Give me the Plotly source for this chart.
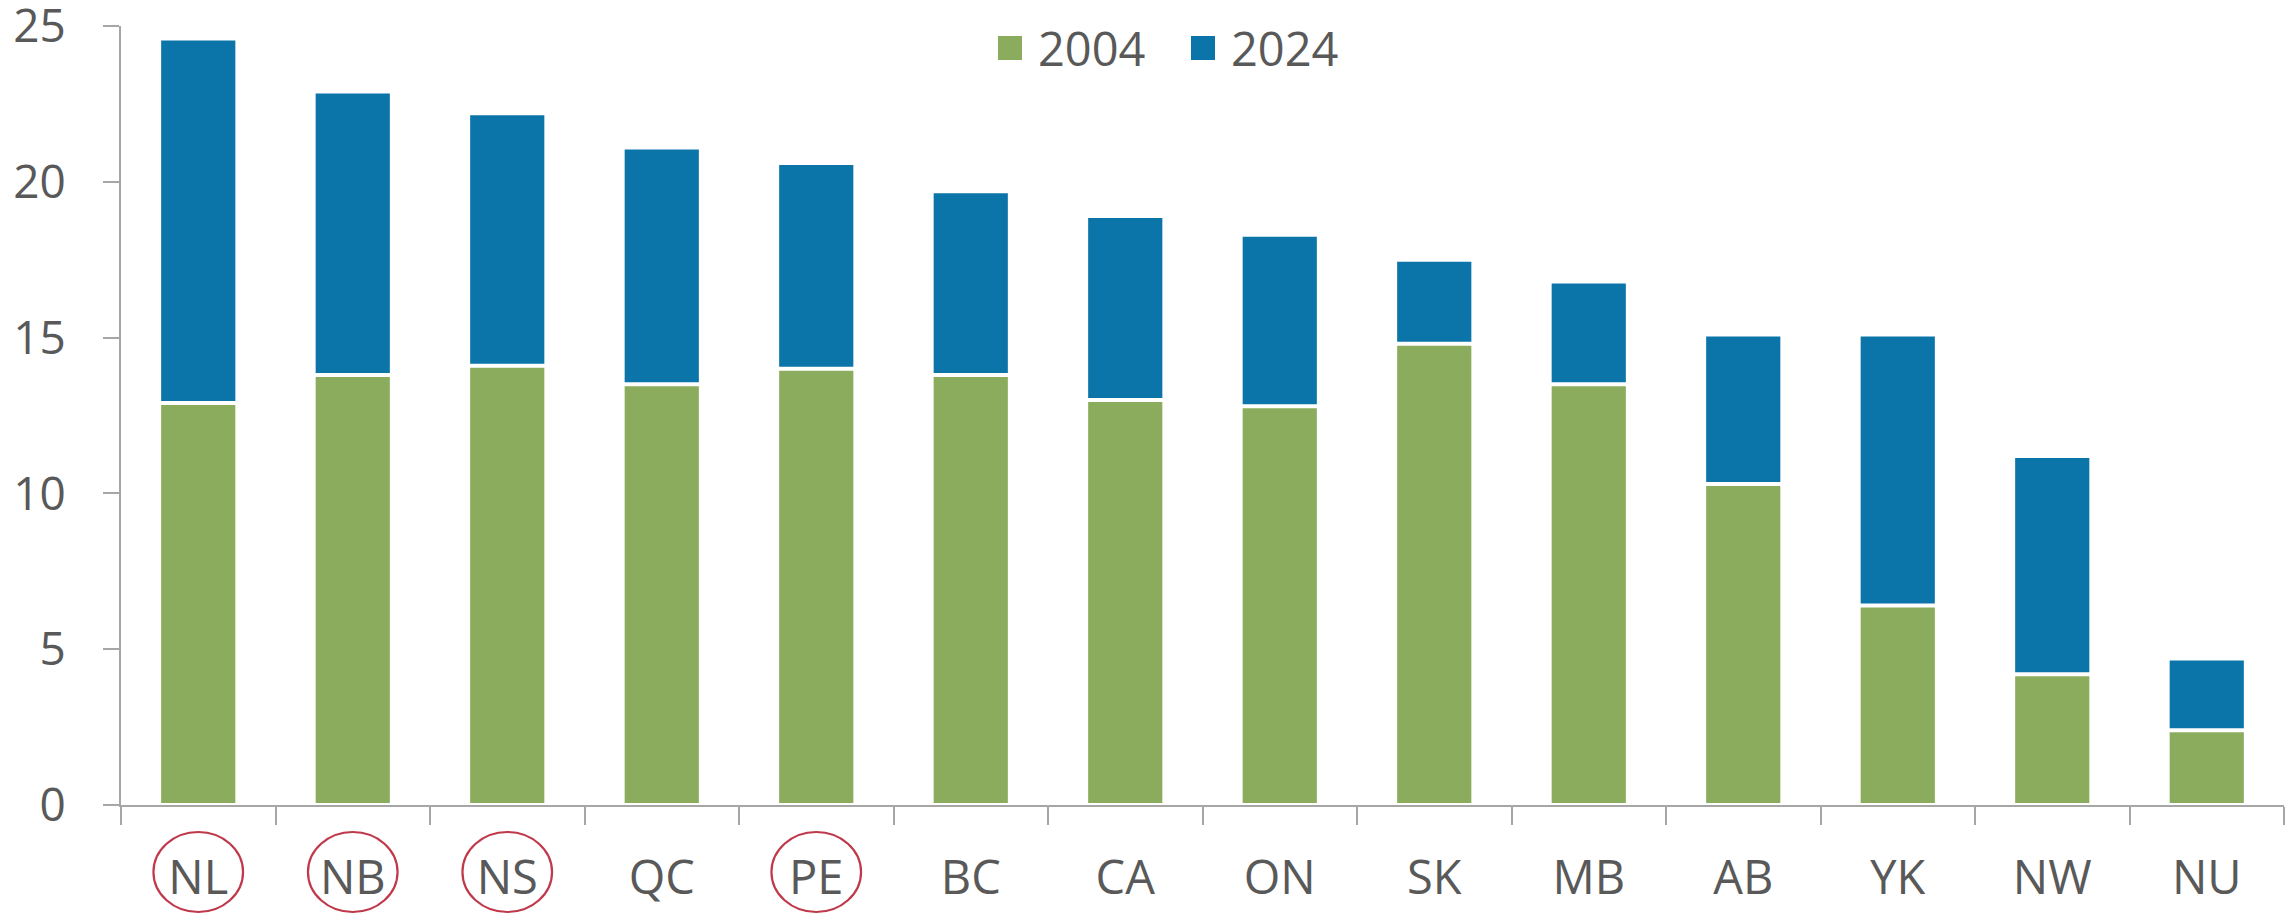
import plotly.graph_objects as go

categories = ["NL", "NB", "NS", "QC", "PE", "BC", "CA", "ON", "SK", "MB", "AB", "YK", "NW", "NU"]
values_2004 = [12.9, 13.8, 14.1, 13.5, 14.0, 13.8, 13.0, 12.8, 14.8, 13.5, 10.3, 6.4, 4.2, 2.4]
values_2024 = [24.6, 22.9, 22.2, 21.1, 20.6, 19.7, 18.9, 18.3, 17.5, 16.8, 15.1, 15.1, 11.2, 4.7]
highlighted = ["NL", "NB", "NS", "PE"]
y_ticks = [0, 5, 10, 15, 20, 25]
series_names = ["2004", "2024"]

GREEN = "#8BAC5D"
BLUE = "#0B74A8"
TEXT = "#595959"
AXIS = "#A6A6A6"
FONT = "Open Sans"

W, H = 2291, 915
ML, MR, MT, MB = 121, 7, 26, 110
PW = W - ML - MR
PH = H - MT - MB

def px_x(px):
    return (px - ML) / PW

def px_y(py):
    return (H - MB - py) / PH

fig = go.Figure()
fig.add_trace(go.Bar(x=categories, y=values_2024, name=series_names[1],
                     marker=dict(color=BLUE, line=dict(color="white", width=4)),
                     showlegend=False))
fig.add_trace(go.Bar(x=categories, y=values_2004, name=series_names[0],
                     marker=dict(color=GREEN, line=dict(color="white", width=4)),
                     showlegend=False))

shapes = []
for cat in highlighted:
    i = categories.index(cat)
    shapes.append(dict(type="circle", xref="x", yref="paper",
                       x0=i - 0.29, x1=i + 0.29,
                       y0=px_y(912), y1=px_y(832),
                       line=dict(color="#C0394B", width=2.2)))

# custom legend
legend_items = [(series_names[0], GREEN, 998, 1040), (series_names[1], BLUE, 1191, 1233)]
annotations = []
for name, col, sx, tx in legend_items:
    shapes.append(dict(type="rect", xref="paper", yref="paper",
                       x0=px_x(sx), x1=px_x(sx + 24), y0=px_y(60), y1=px_y(36),
                       fillcolor=col, line=dict(width=0)))
    annotations.append(dict(text=name, xref="paper", yref="paper",
                            x=px_x(tx - 4), y=px_y(48), xanchor="left", yanchor="middle",
                            showarrow=False, font=dict(family=FONT, size=47, color=TEXT)))

fig.update_layout(
    width=W, height=H,
    margin=dict(l=ML, r=MR, t=MT, b=MB, autoexpand=False),
    barmode="overlay",
    bargap=0.494,
    plot_bgcolor="white", paper_bgcolor="white",
    font=dict(family=FONT, color=TEXT),
    shapes=shapes,
    annotations=annotations,
    showlegend=False,
)
fig.update_xaxes(
    automargin=False,
    showline=True, linecolor=AXIS, linewidth=2,
    ticks="outside", tickson="boundaries", ticklen=18, tickwidth=2, tickcolor=AXIS,
    tickfont=dict(family=FONT, size=47, color=TEXT),
    ticklabelstandoff=31,
    showgrid=False, zeroline=False,
)
fig.update_yaxes(
    automargin=False,
    range=[0, 25], tickvals=y_ticks,
    showline=True, linecolor=AXIS, linewidth=2,
    ticks="outside", ticklen=16, tickwidth=2, tickcolor=AXIS,
    tickfont=dict(family=FONT, size=46, color=TEXT),
    ticklabelstandoff=28, ticklabeloverflow="allow",
    showgrid=False, zeroline=False,
)

fig.write_html("out.html",
               config={"displayModeBar": False},
               post_script="document.body.style.margin='0';document.body.style.overflow='hidden';")
